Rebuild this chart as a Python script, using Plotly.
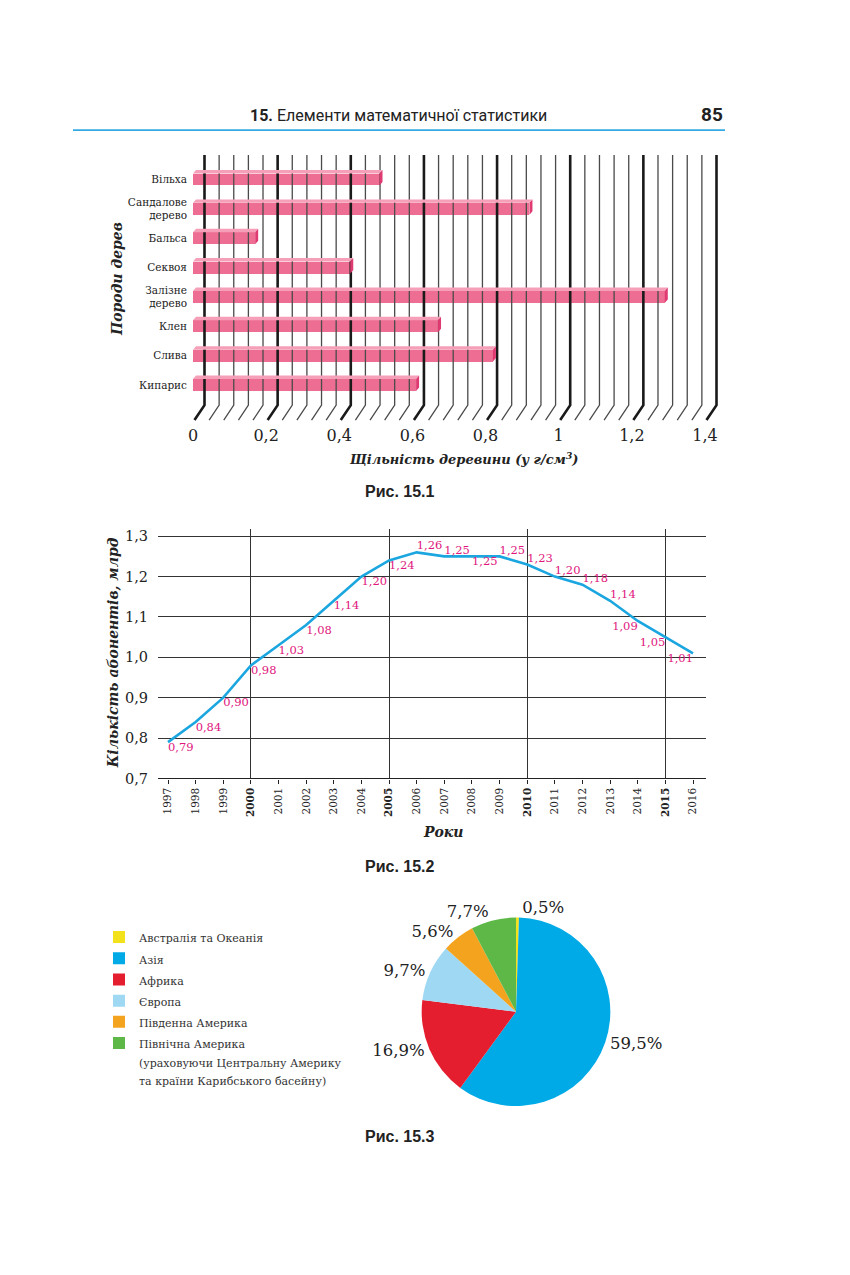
import plotly.graph_objects as go

# the page body adds an 8px margin, so the figure is a bit smaller than the window
PAGE_PAD = 8
W, H = 850 - 2 * PAGE_PAD, 1275 - 2 * PAGE_PAD
SERIF = "DejaVu Serif"
SANS = "Liberation Sans"

# Рис. 15.1 - density of wood
trees = ["Вільха", "Сандалове<br>дерево", "Бальса", "Секвоя",
         "Залізне<br>дерево", "Клен", "Слива", "Кипарис"]
density = [0.51, 0.92, 0.17, 0.43, 1.29, 0.67, 0.82, 0.61]
density_ticks = [0, 0.2, 0.4, 0.6, 0.8, 1.0, 1.2, 1.4]
density_labels = ["0", "0,2", "0,4", "0,6", "0,8", "1", "1,2", "1,4"]

# Рис. 15.2 - mobile subscribers
years = list(range(1997, 2017))
subscribers = [0.79, 0.84, 0.90, 0.98, 1.03, 1.08, 1.14, 1.20, 1.24, 1.26,
               1.25, 1.25, 1.25, 1.23, 1.20, 1.18, 1.14, 1.09, 1.05, 1.01]
sub_ticks = [0.7, 0.8, 0.9, 1.0, 1.1, 1.2, 1.3]
sub_labels = ["0,7", "0,8", "0,9", "1,0", "1,1", "1,2", "1,3"]
grid_years = [2000, 2005, 2010, 2015]

# Рис. 15.3 - population by region
regions = ["Австралія та Океанія", "Азія", "Африка", "Європа", "Південна Америка",
           "Північна Америка<br>(ураховуючи Центральну Америку<br>та країни Карибського басейну)"]
shares = [0.5, 59.5, 16.9, 9.7, 5.6, 7.7]
region_colors = ["#f3e11b", "#00aae6", "#e41d2f", "#9fd8f3", "#f4a31f", "#5db847"]


def fx(px):
    return (px - PAGE_PAD) / W


def fy(py):
    return 1 - (py - PAGE_PAD) / H


def comma(v, nd=2):
    return f"{v:.{nd}f}".replace(".", ",")


# ---- chart 1 geometry (pixel based mapping) ----
X0_PX, UNIT_PX = 193.0, 512 / 1.4
Y0_PX, STEP_PX = 179.7, 29.571
x1_dom = (180, 725)
y1_dom = (150, 424)
x1_range = [(x1_dom[0] - X0_PX) / UNIT_PX, (x1_dom[1] - X0_PX) / UNIT_PX]
y1_range = [(y1_dom[1] - Y0_PX) / STEP_PX, (y1_dom[0] - Y0_PX) / STEP_PX]

dxu = lambda p: p / UNIT_PX
dyu = lambda p: p / STEP_PX

pos = list(range(len(trees)))
body_h = dyu(12)
face_dx, face_dy = dxu(3), dyu(3.5)

# back wall lines with slanted feet
y_top = (155 - Y0_PX) / STEP_PX
y_bend = (407 - Y0_PX) / STEP_PX
y_foot = (422 - Y0_PX) / STEP_PX


def wall(vals):
    xs, ys = [], []
    for v in vals:
        xs += [v + dxu(11.5), v + dxu(11.5), v + dxu(1.5), None]
        ys += [y_top, y_bend, y_foot, None]
    return xs, ys


steps = [round(i * 0.04, 2) for i in range(36)]
thin = [v for i, v in enumerate(steps) if i % 5]
bold = [v for i, v in enumerate(steps) if i % 5 == 0]

fig = go.Figure()

tx, ty = wall(thin)
fig.add_trace(go.Scatter(x=tx, y=ty, mode="lines", line=dict(color="#4a4a4a", width=1.3),
                         hoverinfo="skip", showlegend=False, xaxis="x", yaxis="y"))
bx, by = wall(bold)
fig.add_trace(go.Scatter(x=bx, y=by, mode="lines", line=dict(color="#1a1a1a", width=2.6),
                         hoverinfo="skip", showlegend=False, xaxis="x", yaxis="y"))

fig.add_trace(go.Bar(x=density, y=pos, orientation="h", width=body_h,
                     marker=dict(color="#ee6e93", line=dict(width=0)),
                     showlegend=False, xaxis="x", yaxis="y"))

top_x, top_y, end_x, end_y = [], [], [], []
for p, v in zip(pos, density):
    t, b = p - body_h / 2, p + body_h / 2
    top_x += [0, v, v + face_dx, face_dx, 0, None]
    top_y += [t, t, t - face_dy, t - face_dy, t, None]
    end_x += [v, v + face_dx, v + face_dx, v, v, None]
    end_y += [t, t - face_dy, b - face_dy, b, t, None]
fig.add_trace(go.Scatter(x=top_x, y=top_y, mode="lines", fill="toself", fillcolor="#f5a0b8",
                         line=dict(width=0), hoverinfo="skip", showlegend=False,
                         xaxis="x", yaxis="y"))
fig.add_trace(go.Scatter(x=end_x, y=end_y, mode="lines", fill="toself", fillcolor="#df3a72",
                         line=dict(width=0), hoverinfo="skip", showlegend=False,
                         xaxis="x", yaxis="y"))

# ---- chart 2 ----
fig.add_trace(go.Scatter(
    x=years, y=subscribers, mode="lines+text",
    line=dict(color="#1ba6e0", width=2.6),
    text=[comma(v) for v in subscribers],
    textposition=["bottom right"] * 9 + ["top right", "top right", "bottom right", "top right"]
                 + ["top right"] * 4 + ["bottom left"] * 3,
    textfont=dict(family=SERIF, size=11.5, color="#e0157d"),
    hoverinfo="skip", showlegend=False, xaxis="x2", yaxis="y2"))

# ---- chart 3 ----
fig.add_trace(go.Pie(
    labels=[f'<span style="font-size:11px">{r}</span>' for r in regions],
    values=shares, sort=False, direction="clockwise", rotation=0,
    marker=dict(colors=region_colors, line=dict(width=0)),
    text=[comma(v, 1) + "%" for v in shares], textinfo="text", textposition="outside",
    textfont=dict(family=SERIF, size=16.5, color="#222222"),
    domain=dict(x=[fx(421), fx(611)], y=[fy(1113), fy(923)]),
    showlegend=True, hoverinfo="skip"))

ann = []
# header
ann.append(dict(x=fx(398), y=fy(115), text="<b>15.</b> Елементи математичної статистики",
                font=dict(family="Roboto", size=16, color="#222")))
ann.append(dict(x=fx(712), y=fy(114), text="<b>85</b>",
                font=dict(family="Roboto", size=19, color="#222")))
# chart 1 titles
ann.append(dict(x=fx(117), y=fy(280), text="<b><i>Породи дерев</i></b>", textangle=-90,
                font=dict(family=SERIF, size=14, color="#222")))
ann.append(dict(x=fx(463), y=fy(461), text="<b><i>Щільність деревини (у г/см<sup>3</sup>)</i></b>",
                font=dict(family=SERIF, size=13, color="#222")))
ann.append(dict(x=fx(400), y=fy(494), text="<b>Рис. 15.1</b>",
                font=dict(family=SANS, size=16, color="#222")))
# chart 2 titles
ann.append(dict(x=fx(113), y=fy(657), text="<b><i>Кількість абонентів, млрд</i></b>", textangle=-90,
                font=dict(family=SERIF, size=14, color="#222")))
ann.append(dict(x=fx(443), y=fy(837), text="<b><i>Роки</i></b>",
                font=dict(family=SERIF, size=14, color="#222")))
ann.append(dict(x=fx(400), y=fy(872), text="<b>Рис. 15.2</b>",
                font=dict(family=SANS, size=16, color="#222")))
ann.append(dict(x=fx(400), y=fy(1144), text="<b>Рис. 15.3</b>",
                font=dict(family=SANS, size=16, color="#222")))
for a in ann:
    a.update(xref="paper", yref="paper", showarrow=False, xanchor="center", yanchor="middle")

fig.update_layout(
    width=W, height=H,
    margin=dict(l=0, r=0, t=0, b=0),
    paper_bgcolor="white", plot_bgcolor="white",
    font=dict(family=SERIF, color="#222"),
    annotations=ann,
    shapes=[dict(type="line", xref="paper", yref="paper", x0=fx(73), x1=fx(725),
                 y0=fy(130), y1=fy(130), line=dict(color="#33abe2", width=1.6))],
    legend=dict(x=fx(99), y=fy(927), xanchor="left", yanchor="top", valign="top",
                font=dict(family=SERIF, size=14, color="#333"),
                itemwidth=30, bgcolor="rgba(0,0,0,0)", traceorder="normal"),
    xaxis=dict(domain=[fx(x1_dom[0]), fx(x1_dom[1])], range=x1_range, anchor="y",
               showgrid=False, zeroline=False, showline=False,
               tickvals=density_ticks, ticktext=density_labels, ticklabelstandoff=2,
               tickfont=dict(family=SERIF, size=16, color="#222")),
    yaxis=dict(domain=[fy(y1_dom[1]), fy(y1_dom[0])], range=y1_range, anchor="free",
               position=fx(187), showgrid=False, zeroline=False, showline=False,
               tickvals=pos, ticktext=trees,
               tickfont=dict(family=SERIF, size=10.5, color="#222")),
    xaxis2=dict(domain=[fx(158), fx(706)], range=[1996.638, 2016.47], anchor="y2",
                showgrid=False, zeroline=False, showline=True, linecolor="#222", linewidth=1.3,
                tickvals=years,
                ticktext=[f"<b>{y}</b>" if y in grid_years else str(y) for y in years],
                tickangle=-90, ticks="outside", ticklen=4, tickcolor="#222",
                tickfont=dict(family=SERIF, size=10.5, color="#222"),
                minor=dict(tickmode="array", tickvals=grid_years, showgrid=True,
                           gridcolor="#333", gridwidth=1, ticks="")),
    yaxis2=dict(domain=[fy(783), fy(532)], range=[0.7, 1.3172], anchor="x2",
                showgrid=True, gridcolor="#333", gridwidth=1, zeroline=False, showline=False,
                tickvals=sub_ticks, ticktext=sub_labels, ticklabelstandoff=9,
                tickfont=dict(family=SERIF, size=14.5, color="#222")),
    bargap=0,
)

fig.write_html("out.html")
